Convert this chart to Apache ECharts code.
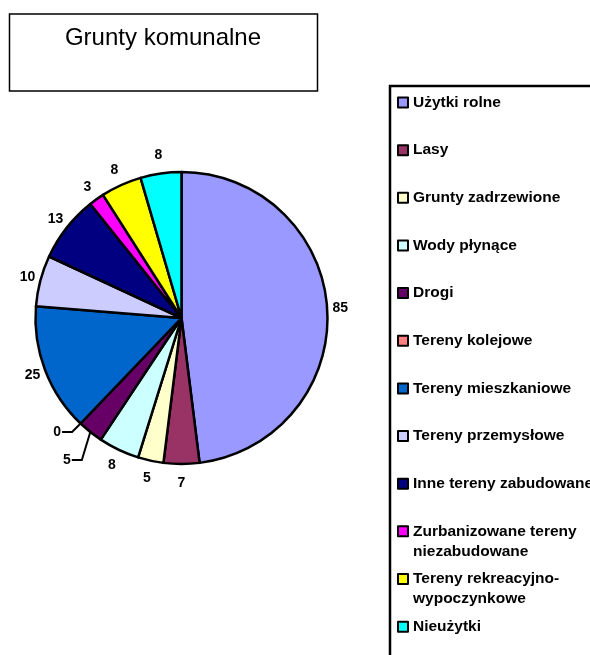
<!DOCTYPE html>
<html lang="pl">
<head>
<meta charset="UTF-8">
<title>Grunty komunalne</title>
<script src="https://cdn.jsdelivr.net/npm/echarts@6/dist/echarts.min.js"></script>
<style>
    html, body { margin: 0; padding: 0; background: #fff; }
    #main { width: 590px; height: 655px; }
</style>
</head>
<body>
<div id="main"></div>
<script>
    var categories = ['Użytki rolne', 'Lasy', 'Grunty zadrzewione', 'Wody płynące', 'Drogi',
        'Tereny kolejowe', 'Tereny mieszkaniowe', 'Tereny przemysłowe', 'Inne tereny zabudowane',
        'Zurbanizowane tereny niezabudowane', 'Tereny rekreacyjno-wypoczynkowe', 'Nieużytki'];
    var values = [85, 7, 5, 8, 5, 0, 25, 10, 13, 3, 8, 8];
    var colors = ['#9999FF', '#993366', '#FFFFCC', '#CCFFFF', '#660066', '#FF8080',
        '#0066CC', '#CCCCFF', '#000080', '#FF00FF', '#FFFF00', '#00FFFF'];

    // legend entries that wrap onto two lines
    var legendBreaks = {
        'Zurbanizowane tereny niezabudowane': 'Zurbanizowane tereny\nniezabudowane',
        'Tereny rekreacyjno-wypoczynkowe': 'Tereny rekreacyjno-\nwypoczynkowe'
    };

    var font = '"Liberation Sans", Arial, sans-serif';
    var cx = 181.5, cy = 318, r = 146;

    // mid angle of every slice (clockwise from 12 o'clock)
    var total = values.reduce(function (s, v) { return s + v; }, 0);
    var midAngle = [];
    var acc = 0;
    values.forEach(function (v) {
        midAngle.push((acc + v / 2) / total * 2 * Math.PI);
        acc += v;
    });

    // small slices with a leader line: kink offset from the edge point
    var leaders = { 4: [-8.5, 28], 5: [-8.5, 8.5] };

    var legends = categories.map(function (name, i) {
        // a leading empty line keeps the marker beside the first line
        var text = legendBreaks[name] ? '\n' + legendBreaks[name] : name;
        var lines = text.split('\n').length;
        var c = 102.5 + i * 47.65;
        return {
            data: [name],
            orient: 'vertical',
            left: 397,
            top: c - lines * 10,
            padding: 0,
            itemWidth: 10,
            itemHeight: 10,
            icon: 'rect',
            selectedMode: false,
            formatter: function () { return text; },
            itemStyle: { borderColor: '#000', borderWidth: 2 },
            textStyle: { fontFamily: font, fontSize: 15.5, fontWeight: 'bold', color: '#000', lineHeight: 20 }
        };
    });

    var myChart = echarts.init(document.getElementById('main'));

    var option = {
        animation: false,
        backgroundColor: '#fff',
        graphic: [
            { type: 'rect', shape: { x: 9.5, y: 14, width: 308, height: 77 },
              style: { fill: '#fff', stroke: '#000', lineWidth: 1.5 } },
            { type: 'text', x: 163, y: 38,
              style: { text: 'Grunty komunalne', font: '24px ' + font, fill: '#000', align: 'center', verticalAlign: 'middle' } },
            { type: 'rect', z: -1, shape: { x: 390, y: 86, width: 300, height: 700 },
              style: { fill: '#fff', stroke: '#000', lineWidth: 2.5 } }
        ],
        legend: legends,
        series: [
            {
                type: 'pie',
                center: [cx, cy],
                radius: r,
                startAngle: 90,
                clockwise: true,
                avoidLabelOverlap: false,
                emphasis: { disabled: true },
                itemStyle: { borderColor: '#000', borderWidth: 2.5 },
                label: {
                    show: true,
                    position: 'outside',
                    formatter: '{c}',
                    color: '#000',
                    fontFamily: font,
                    fontSize: 14,
                    fontWeight: 'bold'
                },
                labelLine: { show: false, lineStyle: { color: '#000', width: 2 } },
                labelLayout: function (params) {
                    var i = params.dataIndex;
                    var a = midAngle[i];
                    if (leaders[i]) {
                        var ex = cx + r * Math.sin(a), ey = cy - r * Math.cos(a);
                        var kx = ex + leaders[i][0], ky = ey + leaders[i][1];
                        return {
                            x: kx - 11, y: ky, align: 'right', verticalAlign: 'middle',
                            labelLinePoints: [[ex, ey], [kx, ky], [kx - 10, ky]]
                        };
                    }
                    // labels sit a little closer at the sides than at top and bottom
                    var R = r + 19 - 6 * Math.abs(Math.sin(a));
                    return { x: cx + R * Math.sin(a), y: cy - R * Math.cos(a), align: 'center', verticalAlign: 'middle' };
                },
                data: categories.map(function (name, i) {
                    return {
                        name: name,
                        value: values[i],
                        itemStyle: { color: colors[i] },
                        labelLine: { show: !!leaders[i] }
                    };
                })
            }
        ]
    };

    myChart.setOption(option);
</script>
</body>
</html>
